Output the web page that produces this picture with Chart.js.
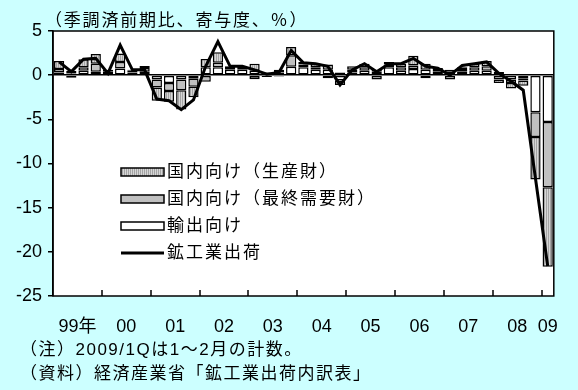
<!DOCTYPE html>
<html lang="ja">
<head>
<meta charset="utf-8">
<title>鉱工業出荷の推移</title>
<script src="https://cdn.jsdelivr.net/npm/chart.js@4/dist/chart.umd.min.js"></script>
<style>
  html, body { margin: 0; padding: 0; background: #CCFFFF; }
  canvas { display: block; }
</style>
</head>
<body>
<canvas id="shipChart" width="578" height="390"></canvas>
<script>
  // quarters, 1999/1Q - 2009/1Q
  const quarters = [
    '99/1Q', '99/2Q', '99/3Q', '99/4Q', '00/1Q', '00/2Q', '00/3Q', '00/4Q',
    '01/1Q', '01/2Q', '01/3Q', '01/4Q', '02/1Q', '02/2Q', '02/3Q', '02/4Q',
    '03/1Q', '03/2Q', '03/3Q', '03/4Q', '04/1Q', '04/2Q', '04/3Q', '04/4Q',
    '05/1Q', '05/2Q', '05/3Q', '05/4Q', '06/1Q', '06/2Q', '06/3Q', '06/4Q',
    '07/1Q', '07/2Q', '07/3Q', '07/4Q', '08/1Q', '08/2Q', '08/3Q', '08/4Q',
    '09/1Q'
  ];
  const yearLabels = ['99年', '00', '01', '02', '03', '04', '05', '06', '07', '08', '09'];

  // contributions (%pt)
  const exportVals = [
    0.3, -0.3, 0.5, 0.4, 0.1, 0.75, 0.3, 0.4,
    -0.5, -0.9, -0.5, -0.4, 0.9, 0.9, 0.6, 0.6,
    0.5, 0.3, 0.3, 0.95, 0.9, 0.6, 0.6, -0.6,
    0.3, 0.5, 0.4, 0.9, 0.5, 0.7, 0.6, 0.4,
    0.4, 0.4, 0.5, 0.5, 0.35, -0.5, -0.4, -4.2,
    -5.3
  ];
  const finalVals = [
    0.4, 0.2, 0.4, 0.9, 0.3, 0.75, 0.2, 0.4,
    -0.9, -0.9, -1.2, -0.9, -0.75, 0.5, 0.2, 0.2,
    -0.45, -0.1, 0.3, 1.3, 0.3, 0.3, -0.35, -0.5,
    0.3, 0.4, -0.5, 0.3, 0.4, 0.4, -0.35, 0.3,
    -0.5, 0.3, 0.4, 0.5, -0.5, -0.4, -0.2, -2.8,
    -7.4
  ];
  const producerVals = [
    0.9, 0.3, 0.9, 1.1, 0.2, 0.95, 0.1, 0.25,
    -1.5, -1.2, -2.2, -1.2, 0.94, 1.2, 0.2, 0.15,
    0.8, -0.1, -0.15, 0.95, 0.3, 0.4, 0.6, 0.3,
    0.4, 0.4, 0.2, 0.3, 0.4, 1.1, 0.7, 0.1,
    0.2, 0.2, 0.4, 0.6, -0.4, -0.6, -0.6, -4.8,
    -9.0
  ];
  const totalVals = [
    1.5, 0.4, 1.8, 1.9, 0.2, 3.4, 0.6, 0.6,
    -2.7, -2.9, -3.9, -2.8, 1.0, 3.8, 1.0, 1.0,
    0.6, 0.1, 0.3, 2.8, 1.4, 1.3, 1.0, -1.1,
    0.6, 1.3, 0.4, 1.3, 1.3, 1.9, 1.0, 0.8,
    0.0, 1.1, 1.3, 1.5, 0.2, -0.7, -1.7, -11.7,
    -21.6
  ];

  const unitText = '（季調済前期比、寄与度、％）';
  const notes = [
    '（注）2009/1Qは1～2月の計数。',
    '（資料）経済産業省「鉱工業出荷内訳表」'
  ];

  // year label sits in the middle of its quarters
  const yearPos = yearLabels.map(lab => {
    const key = lab.slice(0, 2);
    const idx = quarters.map((q, i) => q.startsWith(key + '/') ? i : -1).filter(i => i >= 0);
    return idx.reduce((s, i) => s + i, 0) / idx.length;
  });

  // vertical stripe fill for 生産財
  function stripePattern(ctx) {
    const c = document.createElement('canvas');
    c.width = 2; c.height = 2;
    const p = c.getContext('2d');
    p.fillStyle = '#A4A4A4';
    p.fillRect(0, 0, 1, 2);
    p.fillStyle = '#D6D6D6';
    p.fillRect(1, 0, 1, 2);
    return ctx.createPattern(c, 'repeat');
  }

  // text with extra space between characters (the source font is wide)
  function fillSpaced(ctx, text, x, y, sp) {
    for (const ch of text) {
      ctx.fillText(ch, x, y);
      x += ctx.measureText(ch).width + sp;
    }
  }

  const numFont = { family: '"Liberation Sans", Arial, sans-serif', size: 18 };
  const jpFont = '17px "Liberation Sans", "Noto Sans CJK JP", sans-serif';

  const framePlugin = {
    id: 'frame',
    beforeDraw(chart) {
      const { ctx, chartArea: a } = chart;
      ctx.save();
      ctx.fillStyle = '#CCFFFF';
      ctx.fillRect(0, 0, chart.width, chart.height);
      ctx.fillStyle = '#FFFFFF';
      ctx.fillRect(a.left, a.top, a.right - a.left, a.bottom - a.top);
      ctx.restore();
    },
    afterDraw(chart) {
      const { ctx, chartArea: a } = chart;
      const xs = chart.scales.x;
      ctx.save();
      ctx.strokeStyle = '#000000';
      ctx.lineWidth = 1.5;
      ctx.strokeRect(a.left, a.top, a.right - a.left, a.bottom - a.top);

      // inward tick marks between years
      ctx.lineWidth = 1.5;
      quarters.forEach((q, i) => {
        if (i > 0 && q.slice(0, 2) !== quarters[i - 1].slice(0, 2)) {
          const x = Math.round((xs.getPixelForValue(i - 1) + xs.getPixelForValue(i)) / 2);
          ctx.beginPath();
          ctx.moveTo(x, a.bottom);
          ctx.lineTo(x, a.bottom - 6);
          ctx.stroke();
        }
      });

      ctx.fillStyle = '#000';
      ctx.textBaseline = 'middle';
      ctx.font = jpFont;
      fillSpaced(ctx, unitText, 45, 21, 1.8);
      notes.forEach((t, i) => fillSpaced(ctx, t, 20, 350 + i * 24, 1.5));

      // legend, drawn inside the plot
      const items = chart.data.datasets.slice(1).reverse().concat(chart.data.datasets[0]);
      items.forEach((ds, i) => {
        const y = 172 + i * 27;
        if (ds.type === 'line') {
          ctx.strokeStyle = ds.borderColor;
          ctx.lineWidth = ds.borderWidth;
          ctx.beginPath();
          ctx.moveTo(121, y);
          ctx.lineTo(164, y);
          ctx.stroke();
        } else {
          ctx.fillStyle = ds.backgroundColor;
          ctx.fillRect(121, y - 4, 43, 8);
          ctx.strokeStyle = ds.borderColor;
          ctx.lineWidth = 1.5;
          ctx.strokeRect(121, y - 4, 43, 8);
        }
        ctx.fillStyle = '#000';
        fillSpaced(ctx, ds.label, 167, y, 2);
      });
      ctx.restore();
    }
  };

  function createShipChart() {
    const ctx = document.getElementById('shipChart').getContext('2d');
    const barStyle = { borderColor: '#000000', borderWidth: 1.5, stack: 'parts', borderSkipped: false };

    new Chart(ctx, {
      data: {
        labels: quarters,
        datasets: [
          {
            type: 'line',
            label: '鉱工業出荷',
            data: totalVals,
            borderColor: '#000000',
            borderWidth: 3,
            pointRadius: 0,
            tension: 0,
            stack: 'total'
          },
          { type: 'bar', label: '輸出向け', data: exportVals, backgroundColor: '#FFFFFF', ...barStyle },
          { type: 'bar', label: '国内向け（最終需要財）', data: finalVals, backgroundColor: '#C0C0C0', ...barStyle },
          { type: 'bar', label: '国内向け（生産財）', data: producerVals, backgroundColor: stripePattern(ctx), ...barStyle }
        ]
      },
      options: {
        responsive: false,
        animation: false,
        layout: { padding: { left: 0, right: 17, top: 31, bottom: 54 } },
        datasets: { bar: { categoryPercentage: 1, barPercentage: 0.84 } },
        plugins: {
          legend: { display: false },
          tooltip: { enabled: false }
        },
        scales: {
          x: {
            type: 'category',
            stacked: true,
            offset: true,
            grid: { display: false },
            border: { display: false },
            ticks: { display: false, autoSkip: false },
            afterFit: s => { s.height = 0; }
          },
          xYear: {
            type: 'linear',
            position: 'bottom',
            min: -0.5,
            max: quarters.length - 0.5,
            grid: { display: false, drawTicks: false },
            border: { display: false },
            afterBuildTicks: s => { s.ticks = yearPos.map(v => ({ value: v })); },
            ticks: {
              autoSkip: false,
              maxRotation: 0,
              padding: 20,
              color: '#000',
              font: { family: '"Liberation Sans", "Noto Sans CJK JP", sans-serif', size: 18 },
              callback: (v, i) => yearLabels[i]
            },
            afterFit: s => { s.height = 40; }
          },
          y: {
            stacked: true,
            min: -25,
            max: 5,
            ticks: { stepSize: 5, padding: 6, color: '#000', font: numFont },
            grid: {
              color: c => (c.tick && c.tick.value === 0) ? '#000' : 'rgba(0,0,0,0)',
              lineWidth: 1.5,
              tickColor: '#000',
              tickLength: 5
            },
            border: { display: true, color: '#000', width: 1.5 },
            afterFit: s => { s.width = 53; }
          }
        }
      },
      plugins: [framePlugin]
    });
  }

  document.addEventListener('DOMContentLoaded', () => {
    createShipChart();
  });
</script>
</body>
</html>
